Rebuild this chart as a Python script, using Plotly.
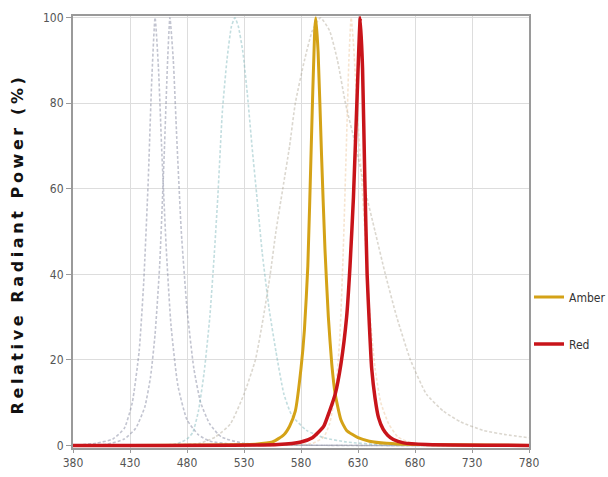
import plotly.graph_objects as go

# Solid series
amber_wl = [380, 540, 555, 565, 570, 575, 580, 583, 586, 589, 592, 593, 595, 598, 601, 604, 607, 610, 615, 620, 630, 640, 655, 680, 780]
amber_val = [0, 0.3, 0.8, 2.5, 4.5, 8, 18, 27, 42, 70, 97, 100, 92, 68, 46, 30, 19, 12, 6, 3.5, 1.8, 1, 0.5, 0.2, 0]

red_wl = [380, 560, 580, 590, 595, 600, 605, 610, 615, 620, 623, 626, 629, 632, 634, 636, 638, 640, 642, 645, 648, 652, 656, 661, 670, 690, 780]
red_val = [0, 0.2, 0.8, 1.8, 3, 4.5, 8, 12, 19, 30, 42, 58, 80, 100, 88, 62, 40, 28, 18, 11, 6.5, 3.8, 2.4, 1.4, 0.6, 0.2, 0]

# Faded reference spectra
blue1_wl = [380, 400, 415, 425, 432, 438, 442, 446, 449, 452, 455, 458, 462, 466, 472, 480, 490, 500, 520, 780]
blue1_val = [0, 0.5, 1.5, 4, 10, 22, 38, 62, 85, 100, 88, 68, 45, 28, 14, 6, 2.5, 1, 0.3, 0]

blue2_wl = [380, 410, 425, 435, 443, 448, 452, 456, 460, 463, 465, 468, 471, 475, 480, 486, 492, 500, 510, 530, 780]
blue2_val = [0, 0.3, 1.5, 4, 9, 16, 26, 42, 68, 90, 100, 90, 72, 50, 32, 18, 10, 5, 2, 0.5, 0]

green_wl = [380, 470, 480, 485, 490, 495, 500, 504, 507, 511, 515, 519, 522, 525, 529, 533, 537, 541, 546, 552, 558, 565, 572, 585, 600, 620, 650, 780]
green_val = [0, 0.3, 1.5, 3, 8, 17, 30, 45, 58, 78, 90, 98, 100, 98, 92, 82, 70, 59, 45, 32, 22, 12, 7, 3.5, 1.8, 0.8, 0.2, 0]

broad_wl = [380, 491, 505, 518, 530, 540, 547, 553, 558, 564, 570, 575, 583, 590, 597, 605, 612, 619, 628, 636, 645, 654, 664, 676, 690, 705, 720, 740, 760, 780]
broad_val = [0, 0.5, 2, 5, 12, 20, 30, 40, 50, 60, 70, 80, 90, 97, 100, 97, 90, 80, 70, 60, 50, 40, 30, 20, 12, 8, 5.5, 3.5, 2.5, 1.8]

pale_wl = [380, 590, 600, 605, 610, 614, 617, 620, 622, 624, 626, 629, 633, 636, 640, 645, 650, 657, 665, 680, 780]
pale_val = [0, 0.5, 2, 5, 12, 25, 45, 72, 90, 100, 94, 80, 63, 50, 32, 18, 10, 5, 2, 0.3, 0]

x_ticks = [380, 430, 480, 530, 580, 630, 680, 730, 780]
y_ticks = [0, 20, 40, 60, 80, 100]

fig = go.Figure()

faded = [
    (blue1_wl, blue1_val, "rgba(120,125,150,0.45)"),
    (blue2_wl, blue2_val, "rgba(120,125,150,0.45)"),
    (green_wl, green_val, "rgba(120,180,185,0.45)"),
    (broad_wl, broad_val, "rgba(165,155,135,0.4)"),
    (pale_wl, pale_val, "rgba(235,195,150,0.45)"),
]
for wl, val, col in faded:
    fig.add_trace(go.Scatter(x=wl, y=val, mode="lines", showlegend=False,
                             line=dict(color=col, width=1.6, dash="3px,2px", shape="spline", smoothing=0.5),
                             hoverinfo="skip"))

fig.add_trace(go.Scatter(x=amber_wl, y=amber_val, mode="lines", name="Amber", legendgroup="a",
                         line=dict(color="#D4A217", width=3, shape="spline", smoothing=0.5)))
fig.add_trace(go.Scatter(x=red_wl, y=red_val, mode="lines", name="Red", legendgroup="r",
                         line=dict(color="#C8141A", width=3.5, shape="spline", smoothing=0.5)))

narrow = "DejaVu Sans Condensed, Liberation Sans Narrow, Liberation Sans, Arial"
tick_font = dict(family=narrow, size=12, color="#555555")

fig.update_layout(
    width=608, height=477,
    margin=dict(l=73, r=79, t=16, b=29, autoexpand=False),
    paper_bgcolor="white", plot_bgcolor="white",
    showlegend=True,
    legend=dict(x=1.0, y=0.295, xanchor="left", yanchor="middle",
                font=dict(family=narrow, size=12, color="#333333"),
                tracegroupgap=28, itemwidth=30, bgcolor="rgba(0,0,0,0)"),
    xaxis=dict(range=[380, 780], tickvals=x_ticks, ticktext=[str(v) for v in x_ticks],
               showgrid=True, gridcolor="#dddddd", gridwidth=1, automargin=False,
               showline=True, linecolor="#9a9a9a", linewidth=2, mirror=True,
               ticks="outside", ticklen=3, tickcolor="#9a9a9a",
               tickfont=tick_font, zeroline=False),
    yaxis=dict(range=[-0.6, 100.4], tickvals=y_ticks, ticktext=[str(v) for v in y_ticks],
               showgrid=True, gridcolor="#dddddd", gridwidth=1, automargin=False,
               showline=True, linecolor="#9a9a9a", linewidth=2, mirror=True,
               ticks="outside", ticklen=5, tickcolor="#9a9a9a",
               tickfont=tick_font, zeroline=False),
    annotations=[dict(
        text='<span style="letter-spacing:3.6px">Relative Radiant Power (%)</span>',
        xref="paper", yref="paper", x=-0.121, y=0.473, textangle=-90,
        showarrow=False, xanchor="center", yanchor="middle",
        font=dict(family="DejaVu Sans", size=16, color="#111111", weight="bold"))],
)

fig.write_html("out.html", config={"displayModeBar": False},
               post_script="document.body.style.margin='0';")
